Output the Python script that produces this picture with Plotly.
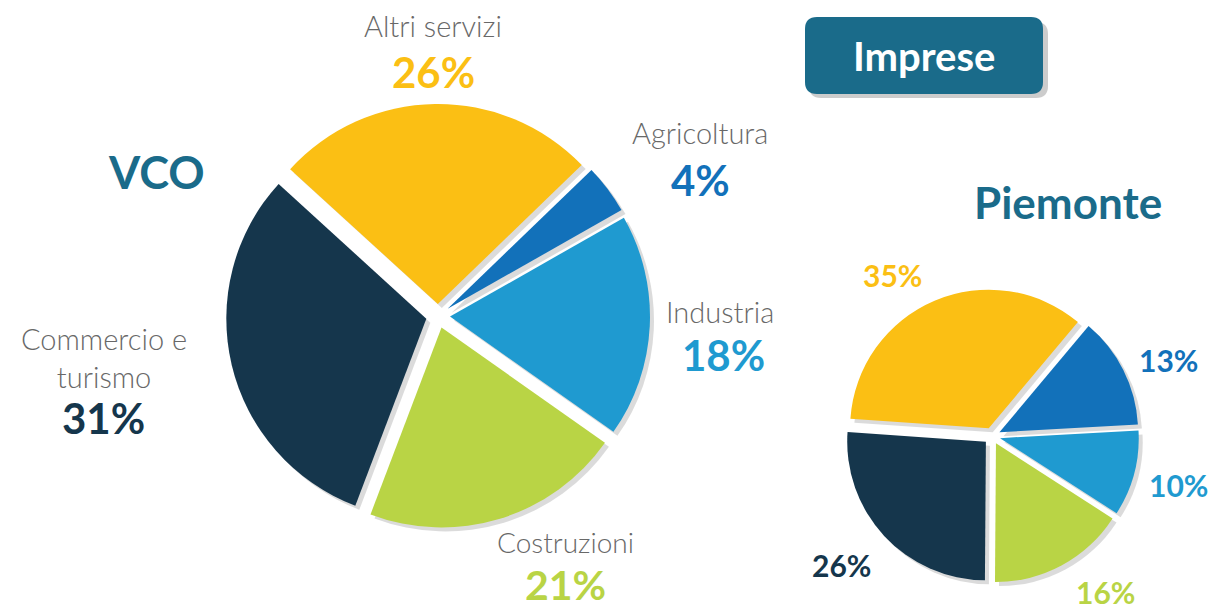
import plotly.graph_objects as go

W, H = 1210, 610

categories = ["Agricoltura", "Industria", "Costruzioni", "Commercio e turismo", "Altri servizi"]
vco_values = [4, 18, 21, 31, 26]
piemonte_values = [13, 10, 16, 26, 35]
colors = ["#1271BA", "#1F9AD0", "#B9D445", "#15364C", "#FBBF14"]

TEAL = "#1A6B8A"
GREY = "#686868"
FONT = "Lato"


def px_dom(x0, x1, y0, y1, dx=0, dy=0):
    return dict(x=[(x0 + dx) / W, (x1 + dx) / W],
                y=[1 - (y1 + dy) / H, 1 - (y0 + dy) / H])


fig = go.Figure()

pies = [
    (vco_values, (226, 650, 104, 528), 46),
    (piemonte_values, (845, 1139, 289, 583), 40),
]

for vals, (x0, x1, y0, y1), rot in pies:
    # soft shadow
    fig.add_trace(go.Pie(
        values=vals, labels=categories, sort=False, direction="clockwise",
        rotation=rot, pull=0.06, textinfo="none", hoverinfo="skip",
        marker=dict(colors=["rgba(0,0,0,0.14)"] * len(vals), line=dict(width=0)),
        domain=px_dom(x0, x1, y0, y1, dx=4, dy=4), showlegend=False,
    ))
    fig.add_trace(go.Pie(
        values=vals, labels=categories, sort=False, direction="clockwise",
        rotation=rot, pull=0.06, textinfo="none",
        marker=dict(colors=colors, line=dict(width=0)),
        domain=px_dom(x0, x1, y0, y1), showlegend=False,
    ))


def ann(text, x, y, size, color, bold=False, weight=None):
    f = dict(family=FONT, size=size, color=color)
    if weight is not None:
        f["weight"] = weight
    fig.add_annotation(
        x=x / W, y=1 - y / H, xref="paper", yref="paper",
        text=f"<b>{text}</b>" if bold else text, showarrow=False,
        xanchor="center", yanchor="middle", font=f,
    )


# VCO labels: (label position, value position, label size, value size)
vco_pos = {
    "Agricoltura": ((700, 133), (700, 180), 29, 42),
    "Industria": ((720, 311), (723, 355), 29, 42),
    "Costruzioni": ((565, 542), (565, 584), 28, 41),
    "Commercio e turismo": ((104, 357), (103, 418), 29, 42),
    "Altri servizi": ((433, 25), (433, 72), 29, 42),
}
for cat, val, col in zip(categories, vco_values, colors):
    (lx, ly), (vx, vy), ls, vs = vco_pos[cat]
    label = "Commercio e<br>turismo" if cat == "Commercio e turismo" else cat
    ann(label, lx, ly, ls, GREY, weight=300)
    ann(f"{val}%", vx, vy, vs, col, bold=True)

# Piemonte labels
pie_pos = {
    "Agricoltura": (1168, 360),
    "Industria": (1178, 485),
    "Costruzioni": (1105, 592),
    "Commercio e turismo": (841, 565),
    "Altri servizi": (892, 275),
}
for cat, val, col in zip(categories, piemonte_values, colors):
    x, y = pie_pos[cat]
    ann(f"{val}%", x, y, 30, col, bold=True)

ann("VCO", 156, 172, 45, TEAL, bold=True)
ann("Piemonte", 1068, 202, 44, TEAL, bold=True)


def rrect(x0, y0, x1, y1, r):
    X = lambda v: v / W
    Y = lambda v: 1 - v / H
    return (f"M {X(x0 + r)} {Y(y0)} L {X(x1 - r)} {Y(y0)} Q {X(x1)} {Y(y0)} {X(x1)} {Y(y0 + r)} "
            f"L {X(x1)} {Y(y1 - r)} Q {X(x1)} {Y(y1)} {X(x1 - r)} {Y(y1)} "
            f"L {X(x0 + r)} {Y(y1)} Q {X(x0)} {Y(y1)} {X(x0)} {Y(y1 - r)} "
            f"L {X(x0)} {Y(y0 + r)} Q {X(x0)} {Y(y0)} {X(x0 + r)} {Y(y0)} Z")


fig.add_shape(type="path", path=rrect(809, 22, 1048, 98, 12), xref="paper", yref="paper",
              fillcolor="rgba(0,0,0,0.2)", line=dict(width=0), layer="below")
fig.add_shape(type="path", path=rrect(805, 17, 1043, 94, 12), xref="paper", yref="paper",
              fillcolor="#1A6B8A", line=dict(width=0), layer="below")
ann("Imprese", 924, 56, 40, "white", bold=True)

fig.update_layout(
    width=W, height=H, margin=dict(l=0, r=0, t=0, b=0),
    paper_bgcolor="white", plot_bgcolor="white", showlegend=False,
)

fig.write_html(
    "out.html",
    config={"displayModeBar": False},
    post_script="document.body.style.margin='0';document.body.style.overflow='hidden';",
)
